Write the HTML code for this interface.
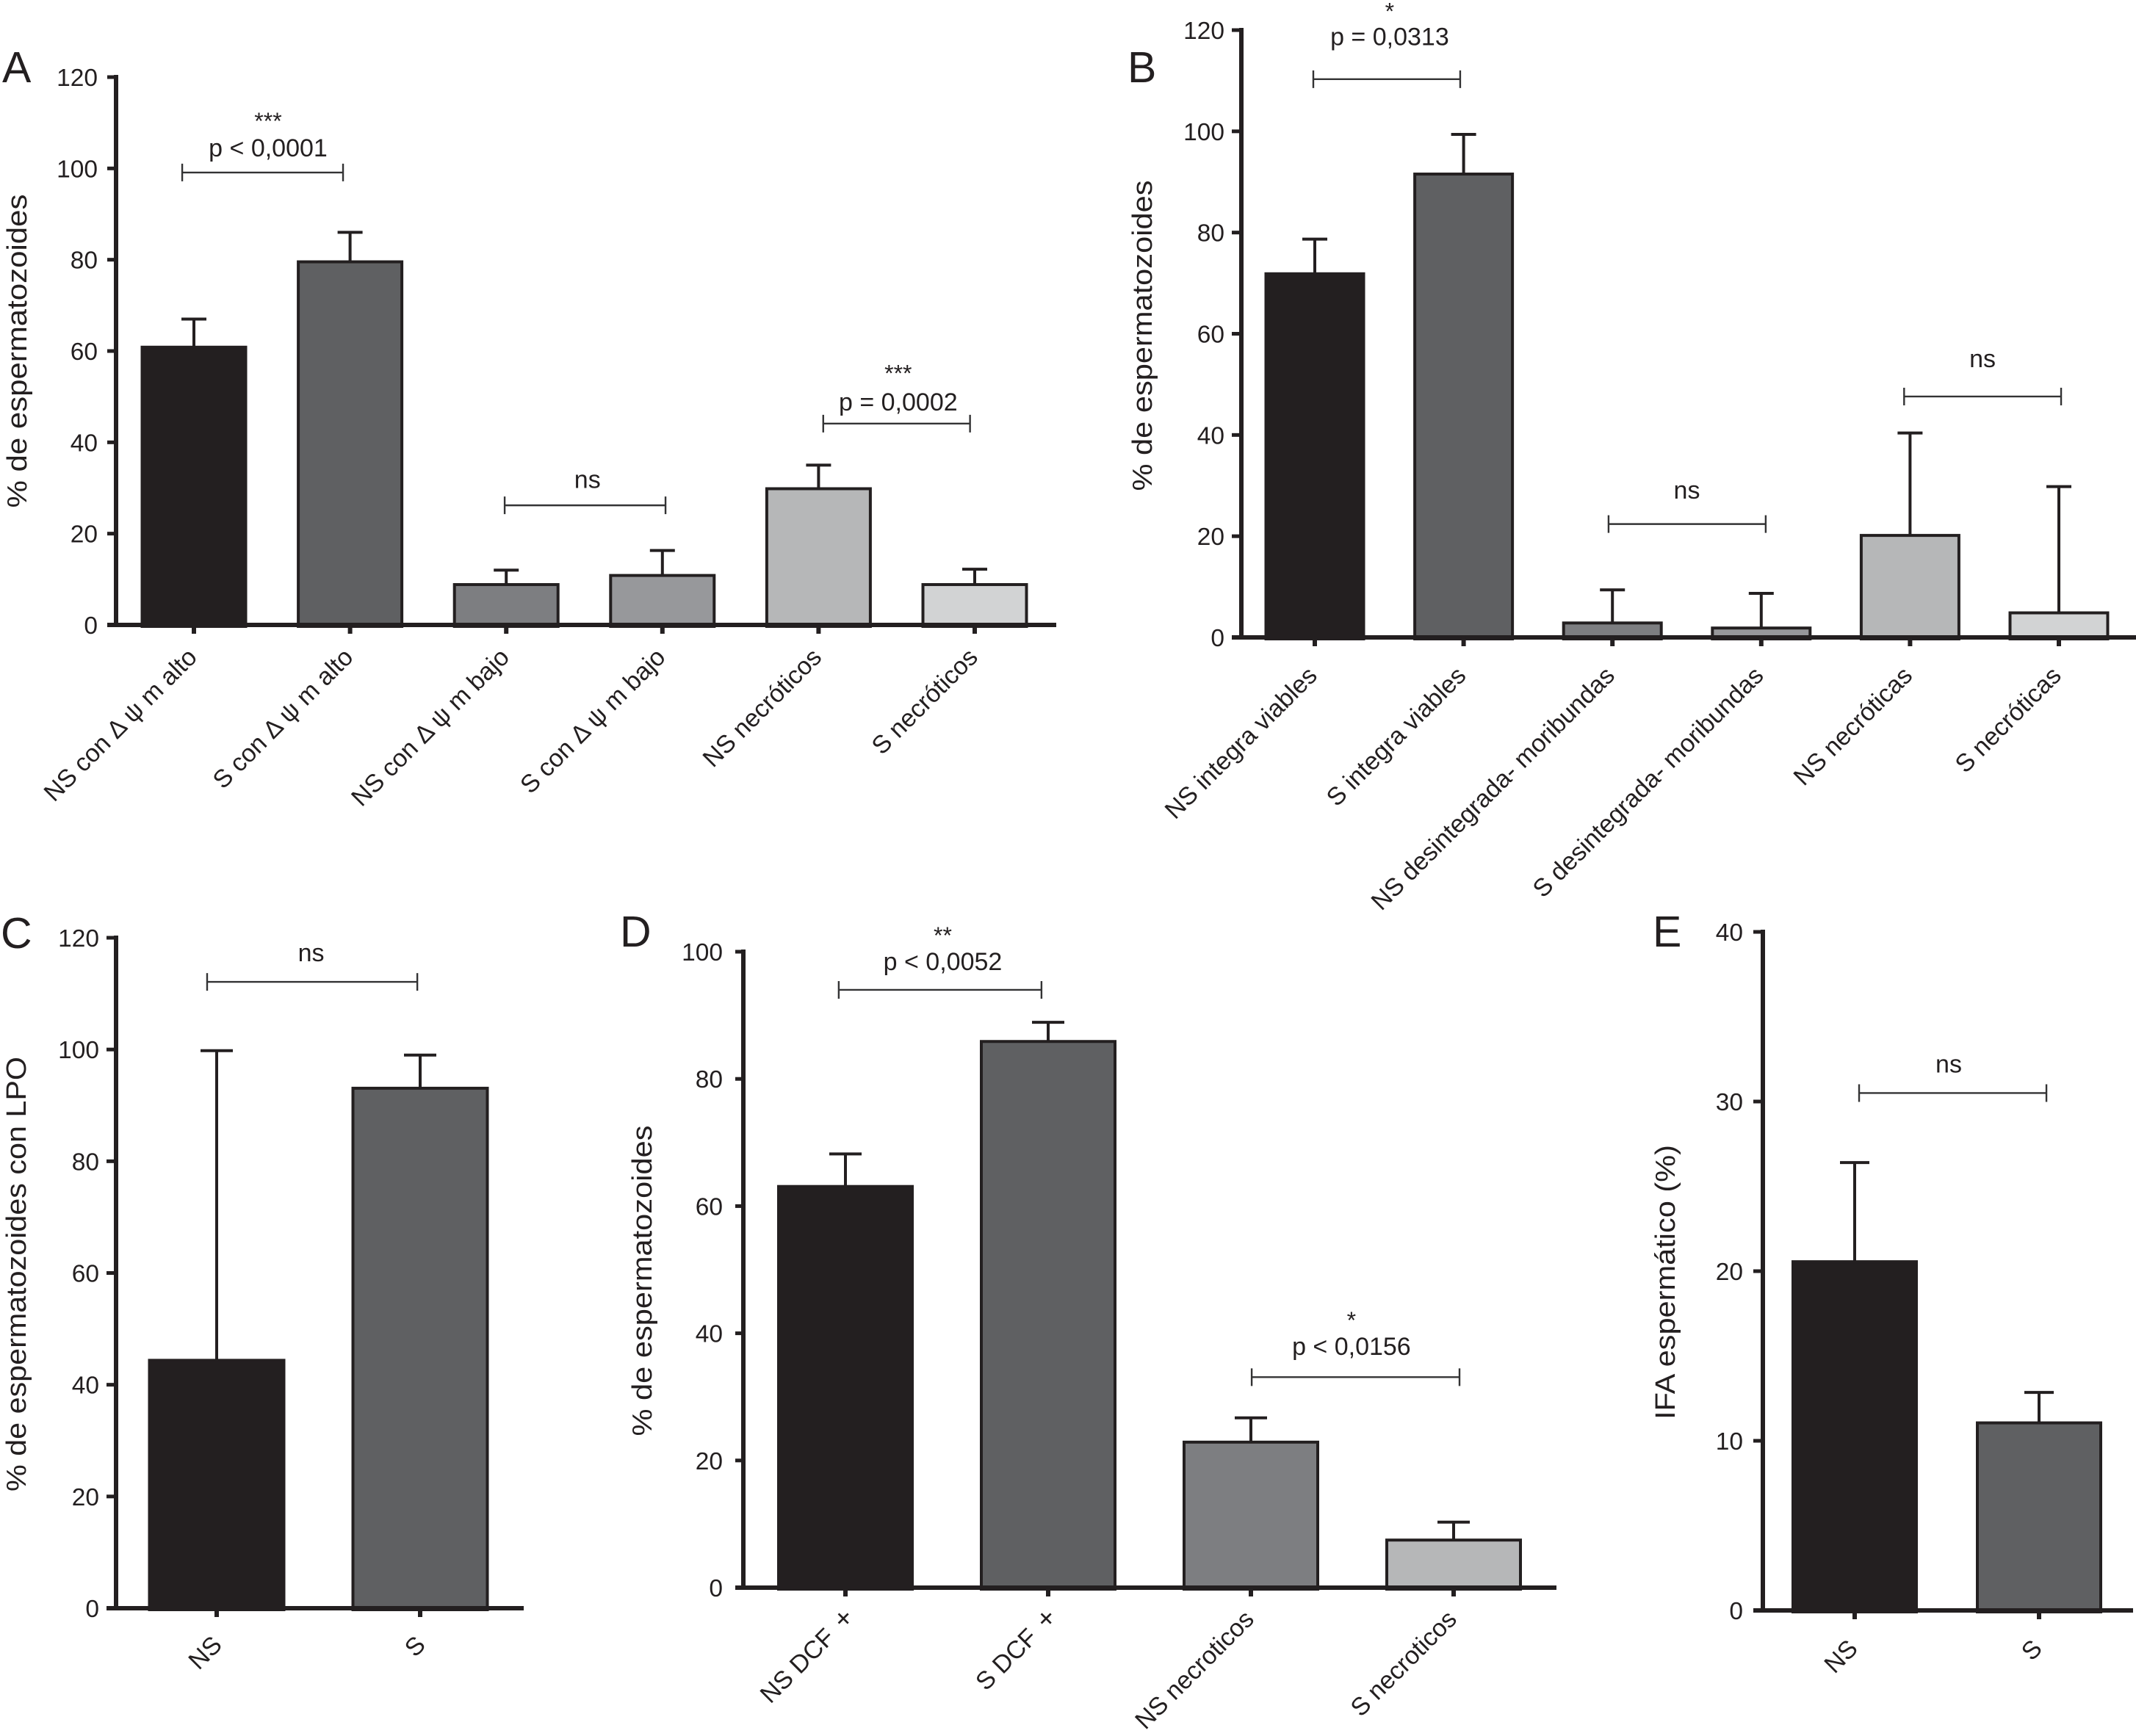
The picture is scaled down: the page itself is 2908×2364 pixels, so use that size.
<!DOCTYPE html>
<html lang="es">
<head>
<meta charset="utf-8">
<title>Espermatozoides: paneles A–E</title>
<style>
html,body{margin:0;padding:0;background:#fff;width:2908px;height:2364px;overflow:hidden}
svg{display:block}
text{font-family:"Liberation Sans",sans-serif;fill:#231f20}
</style>
</head>
<body>
<svg id="figure" xmlns="http://www.w3.org/2000/svg" width="2908" height="2364" viewBox="0 0 2908 2364"></svg>
<script>
/* ---------- data ---------- */
const panelACategories = ["NS con Δ ψ m alto","S con Δ ψ m alto","NS con Δ ψ m bajo","S con Δ ψ m bajo","NS necróticos","S necróticos"];
const panelAValues = [61,79.7,9,11,30,9];
const panelAErrorTops = [67,86,12,16.3,35,12.2];
const panelATicks = [0,20,40,60,80,100,120];
const panelABrackets = [
  {from:-0.075,to:0.955,level:99.1,stars:"***",label:"p < 0,0001",at:0.475,labelLevel:102.6,starLevel:111},
  {from:1.99,to:3.02,level:26.2,stars:"",label:"ns",at:2.52,labelLevel:30,starLevel:0},
  {from:4.03,to:4.97,level:44.1,stars:"***",label:"p = 0,0002",at:4.51,labelLevel:47,starLevel:55.7}
];

const panelBCategories = ["NS integra viables","S integra viables","NS desintegrada- moribundas","S desintegrada- moribundas","NS necróticas","S necróticas"];
const panelBValues = [72,91.7,3,2,20.3,5];
const panelBErrorTops = [78.7,99.4,9.4,8.7,40.4,29.8];
const panelBTicks = [0,20,40,60,80,100,120];
const panelBBrackets = [
  {from:-0.01,to:0.977,level:110.3,stars:"*",label:"p = 0,0313",at:0.503,labelLevel:117,starLevel:124.3},
  {from:1.974,to:3.03,level:22.4,stars:"",label:"ns",at:2.5,labelLevel:27.4,starLevel:0},
  {from:3.96,to:5.015,level:47.6,stars:"",label:"ns",at:4.487,labelLevel:53.4,starLevel:0}
];

const panelCCategories = ["NS","S"];
const panelCValues = [44.5,93.2];
const panelCErrorTops = [99.8,99];
const panelCTicks = [0,20,40,60,80,100,120];
const panelCBrackets = [
  {from:-0.047,to:0.986,level:112.1,stars:"",label:"ns",at:0.464,labelLevel:115.8,starLevel:0}
];

const panelDCategories = ["NS DCF +","S DCF +","NS necroticos","S necroticos"];
const panelDValues = [63.2,86,23,7.6];
const panelDErrorTops = [68.2,88.9,26.7,10.3];
const panelDTicks = [0,20,40,60,80,100];
const panelDBrackets = [
  {from:-0.033,to:0.967,level:94,stars:"**",label:"p < 0,0052",at:0.48,labelLevel:97.1,starLevel:103},
  {from:2.004,to:3.029,level:33.1,stars:"*",label:"p < 0,0156",at:2.496,labelLevel:36.6,starLevel:42.5}
];

const panelECategories = ["NS","S"];
const panelEValues = [20.6,11.1];
const panelEErrorTops = [26.4,12.85];
const panelETicks = [0,10,20,30,40];
const panelEBrackets = [
  {from:0.024,to:1.04,level:30.5,stars:"",label:"ns",at:0.51,labelLevel:31.7,starLevel:0}
];

/* ---------- layout of each panel ---------- */
const INK = "#231f20";
const sixShades = ["#231f20","#5f6062","#7d7e81","#97989b","#b6b7b8","#d2d3d4"];
const fourShades = ["#231f20","#5f6062","#7d7e81","#b6b7b8"];
const twoShades = ["#231f20","#5f6062"];

const panels = [
  {id:"a",letter:"A",letterX:3,letterY:112,axisX:158,top:105,base:851,max:120,firstX:264,stepX:212.6,barW:141,cap:17,left:146,right:1438,labelGap:25,labelDx:6,labelDy:46,
   title:"% de espermatozoides",titleX:36,titleY:478,titleLen:427,shades:sixShades,cats:panelACategories,vals:panelAValues,errs:panelAErrorTops,ticks:panelATicks,brackets:panelABrackets},
  {id:"b",letter:"B",letterX:1535,letterY:112,axisX:1690,top:41,base:868,max:120,firstX:1790,stepX:202.6,barW:133,cap:17,left:1677,right:2908,labelGap:23,labelDx:5,labelDy:54,
   title:"% de espermatozoides",titleX:1568,titleY:457,titleLen:423,shades:sixShades,cats:panelBCategories,vals:panelBValues,errs:panelBErrorTops,ticks:panelBTicks,brackets:panelBBrackets},
  {id:"c",letter:"C",letterX:1,letterY:1291,axisX:158,top:1277,base:2190,max:120,firstX:295,stepX:277,barW:183,cap:22,left:145,right:713,labelGap:23,labelDx:9,labelDy:52,
   title:"% de espermatozoides con LPO",titleX:35,titleY:1735,titleLen:592,shades:twoShades,cats:panelCCategories,vals:panelCValues,errs:panelCErrorTops,ticks:panelCTicks,brackets:panelCBrackets},
  {id:"d",letter:"D",letterX:844,letterY:1289,axisX:1012,top:1296,base:2162,max:100,firstX:1151,stepX:276,barW:182,cap:22,left:1001,right:2119,labelGap:28,labelDx:6,labelDy:45,
   title:"% de espermatozoides",titleX:887,titleY:1744,titleLen:423,shades:fourShades,cats:panelDCategories,vals:panelDValues,errs:panelDErrorTops,ticks:panelDTicks,brackets:panelDBrackets},
  {id:"e",letter:"E",letterX:2250,letterY:1289,axisX:2400,top:1269,base:2193,max:40,firstX:2525,stepX:251,barW:168,cap:20,left:2387,right:2904,labelGap:27,labelDx:6,labelDy:54,
   title:"IFA espermático (%)",titleX:2280,titleY:1746,titleLen:374,shades:twoShades,cats:panelECategories,vals:panelEValues,errs:panelEErrorTops,ticks:panelETicks,brackets:panelEBrackets}
];

/* ---------- drawing ---------- */
const SVGNS = "http://www.w3.org/2000/svg";
const figure = document.getElementById("figure");

function make(tag, attrs, parent, content) {
  const node = document.createElementNS(SVGNS, tag);
  for (const key in attrs) node.setAttribute(key, attrs[key]);
  if (content !== undefined) node.textContent = content;
  parent.appendChild(node);
  return node;
}

function drawPanel(p) {
  const xAxis = function (i) { return p.firstX + p.stepX * i; };
  const yAxis = function (v) { return p.base - (p.base - p.top) * v / p.max; };
  let el;

  const g = make("g", {}, figure);
  
  

  el = make("text", {x:p.letterX, y:p.letterY, "font-size":59}, g, p.letter);
  
  

  el = make("text", {transform:"translate(" + p.titleX + " " + p.titleY + ") rotate(-90)", "text-anchor":"middle", "font-size":38, textLength:p.titleLen, lengthAdjust:"spacingAndGlyphs"}, g, p.title);
  
  

  /* error bars sit behind the bars' top edge */
  p.errs.forEach(function (top, i) {
    const x = xAxis(i);
    el = make("path", {d:"M" + x + " " + yAxis(p.vals[i]) + "V" + yAxis(top) + "M" + (x - p.cap) + " " + yAxis(top) + "H" + (x + p.cap), fill:"none", stroke:INK, "stroke-width":4}, g);
    
    
  });

  p.vals.forEach(function (v, i) {
    const barTop = yAxis(v) + 1;
    el = make("rect", {x:xAxis(i) - p.barW / 2, y:barTop, width:p.barW, height:p.base - barTop + 2, fill:p.shades[i], stroke:INK, "stroke-width":4}, g);
    
    
  });

  /* axes */
  el = make("line", {x1:p.axisX, y1:p.top - 3, x2:p.axisX, y2:p.base + 3, stroke:INK, "stroke-width":6}, g);
  
  

  el = make("line", {x1:p.left, y1:p.base, x2:p.right, y2:p.base, stroke:INK, "stroke-width":6}, g);
  
  

  p.ticks.forEach(function (t) {
    el = make("line", {x1:p.left, y1:yAxis(t), x2:p.axisX, y2:yAxis(t), stroke:INK, "stroke-width":5}, g);
    
    

    el = make("text", {x:p.axisX - p.labelGap, y:yAxis(t) + 12, "text-anchor":"end", "font-size":33.5}, g, String(t));
    
    
  });

  p.cats.forEach(function (name, i) {
    const x = xAxis(i);
    el = make("line", {x1:x, y1:p.base, x2:x, y2:p.base + 12, stroke:INK, "stroke-width":6}, g);
    
    

    const plus = name.endsWith(" +");
    const dx = plus ? p.labelDx + 8 : p.labelDx;
    const dy = plus ? p.labelDy - 2 : p.labelDy;
    const label = make("text", {transform:"translate(" + (x + dx) + " " + (p.base + dy) + ") rotate(-45)", "text-anchor":"end", "font-size":34}, g, plus ? name.slice(0, -1) : name);
    
    
    if (plus) {
      const sup = make("tspan", {dx:6, "font-size":38}, label, "+");
      
      
    }
  });

  /* significance brackets */
  p.brackets.forEach(function (b, i) {
    const y = yAxis(b.level), x1 = xAxis(b.from), x2 = xAxis(b.to);
    el = make("path", {d:"M" + x1 + " " + (y - 12) + "V" + (y + 12) + "M" + x1 + " " + y + "H" + x2 + "M" + x2 + " " + (y - 12) + "V" + (y + 12), fill:"none", stroke:"#333334", "stroke-width":2.4}, g);
    
    

    el = make("text", {x:xAxis(b.at), y:yAxis(b.labelLevel), "text-anchor":"middle", "font-size":34}, g, b.label);
    
    

    if (b.stars) {
      el = make("text", {x:xAxis(b.at), y:yAxis(b.starLevel) + 15, "text-anchor":"middle", "font-size":32}, g, b.stars);
      
      
    }
  });
}

panels.forEach(drawPanel);
</script>
</body>
</html>
